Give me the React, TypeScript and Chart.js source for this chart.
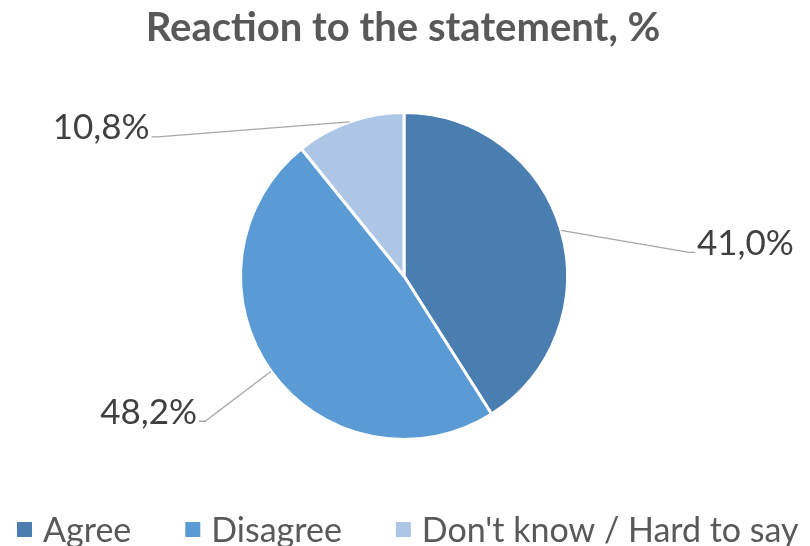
import React, { useEffect, useRef } from "react";
import { Chart, registerables } from "chart.js";

Chart.register(...registerables);

const title = "Reaction to the statement, %";
const categories = ["Agree", "Disagree", "Don't know / Hard to say"];
const values = [41.0, 48.2, 10.8];
const colors = ["#4A7EB0", "#5B9BD5", "#ADC6E5"];
// label offsets from slice mid-point on the rim (layout only)
const labelOffsets = [
  { dx: 128, dy: 22, side: 1 },
  { dx: -66, dy: 50, side: -1 },
  { dx: -192, dy: 15, side: -1 },
];

const FONT = "Lato, 'Open Sans', sans-serif";

const fmt = (v: number) => v.toFixed(1).replace(".", ",") + "%";

const overlay = {
  id: "overlay",
  afterDraw(chart: any) {
    const ctx = chart.ctx as CanvasRenderingContext2D;
    ctx.save();
    // title
    ctx.fillStyle = "#595959";
    ctx.font = `bold 40px ${FONT}`;
    ctx.textAlign = "center";
    ctx.textBaseline = "middle";
    ctx.fillText(title, 403, 28);

    // data labels + leader lines
    const meta = chart.getDatasetMeta(0);
    meta.data.forEach((arc: any, i: number) => {
      const mid = (arc.startAngle + arc.endAngle) / 2;
      const r = arc.outerRadius;
      const px = arc.x + Math.cos(mid) * r;
      const py = arc.y + Math.sin(mid) * r;
      const o = labelOffsets[i];
      const ex = px + o.dx;
      const ey = py + o.dy;
      ctx.strokeStyle = "#A6A6A6";
      ctx.lineWidth = 1.3;
      ctx.beginPath();
      ctx.moveTo(px, py);
      ctx.lineTo(ex, ey);
      ctx.lineTo(ex + o.side * 6, ey);
      ctx.stroke();
      ctx.fillStyle = "#404040";
      ctx.font = `35px ${FONT}`;
      ctx.textBaseline = "middle";
      ctx.textAlign = o.side > 0 ? "left" : "right";
      ctx.fillText(fmt(values[i]), ex + o.side * 8, ey - 9);
    });

    // legend
    ctx.font = `34px ${FONT}`;
    ctx.textAlign = "left";
    ctx.textBaseline = "alphabetic";
    let x = 17;
    const y = 529;
    categories.forEach((c, i) => {
      ctx.fillStyle = colors[i];
      ctx.fillRect(x, y - 7, 15, 15);
      ctx.fillStyle = "#595959";
      ctx.fillText(c, x + 26, 542);
      x += 26 + ctx.measureText(c).width + 54;
    });
    ctx.restore();
  },
};

export default function App() {
  const ref = useRef<HTMLCanvasElement>(null);
  useEffect(() => {
    document.body.style.margin = "0";
    const chart = new Chart(ref.current!, {
      type: "pie",
      data: {
        labels: categories,
        datasets: [
          {
            data: values,
            backgroundColor: colors,
            borderColor: "#FFFFFF",
            borderWidth: 3,
          },
        ],
      },
      options: {
        animation: false,
        responsive: false,
        maintainAspectRatio: false,
        layout: { padding: { left: 239, right: 241, top: 111, bottom: 105 } },
        plugins: {
          legend: { display: false },
          title: { display: false },
          tooltip: { enabled: false },
        },
      },
      plugins: [overlay],
    });
    return () => chart.destroy();
  }, []);
  return (
    <div style={{ width: 810, height: 546, background: "#fff" }}>
      <canvas ref={ref} width={810} height={546} />
    </div>
  );
}
